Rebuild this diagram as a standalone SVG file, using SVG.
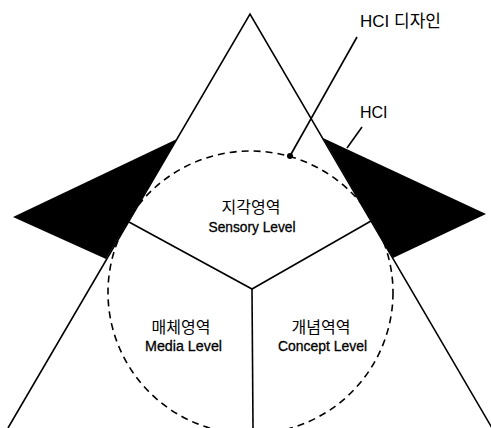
<svg xmlns="http://www.w3.org/2000/svg" width="491" height="428" viewBox="0 0 491 428">
<style>
.ln{fill:none;stroke:#000;stroke-width:1.6;stroke-linejoin:miter}
.blk{fill:#000;stroke:none}
.dash{fill:none;stroke:#000;stroke-width:1.6;stroke-dasharray:7 5}
.ko{font-family:"Noto Sans CJK KR","Noto Sans",sans-serif;font-size:16px;fill:#000;text-anchor:middle}
.en{font-family:"Liberation Sans",Arial,sans-serif;font-size:14px;fill:#000;stroke:#000;stroke-width:0.3;text-anchor:middle}
.lab{font-family:"Liberation Sans","Noto Sans CJK KR",sans-serif;font-size:17px;fill:#000}
</style>
<rect width="491" height="428" fill="#fff"/>
<g id="outer-triangle">
<polyline class="ln" points="8,428 250,14 492,428"/>
</g>
<g id="hci-design-circle">
<ellipse class="dash" cx="250.5" cy="292.5" rx="142.5" ry="141.5"/>
</g>
<g id="hci-left">
<polygon class="blk" points="13,217 177,139 106,259"/>
</g>
<g id="hci-right">
<polygon class="blk" points="323,138 486,214 393,258"/>
</g>
<g id="connectors">
<polyline class="ln" points="129,222 252,289 371,221"/>
<line class="ln" x1="252" y1="289" x2="253" y2="428"/>
<line class="ln" x1="357" y1="37" x2="290" y2="156"/>
<circle cx="290" cy="156" r="3" fill="#000"/>
<line class="ln" x1="362" y1="127" x2="347" y2="148"/>
</g>
<g id="sensory">
<text class="ko" x="251" y="213">지각영역</text>
<text class="en" x="252" y="232" textLength="87" lengthAdjust="spacingAndGlyphs">Sensory Level</text>
</g>
<g id="media">
<text class="ko" x="181" y="333">매체영역</text>
<text class="en" x="183.5" y="351" textLength="77" lengthAdjust="spacingAndGlyphs">Media Level</text>
</g>
<g id="concept">
<text class="ko" x="321" y="333">개념역역</text>
<text class="en" x="322.5" y="351" textLength="89" lengthAdjust="spacingAndGlyphs">Concept Level</text>
</g>
<g id="label-hci-design">
<text class="lab" x="360" y="27">HCI 디자인</text>
</g>
<g id="label-hci">
<text class="lab" x="360" y="118" style="font-size:16px">HCI</text>
</g>
</svg>
